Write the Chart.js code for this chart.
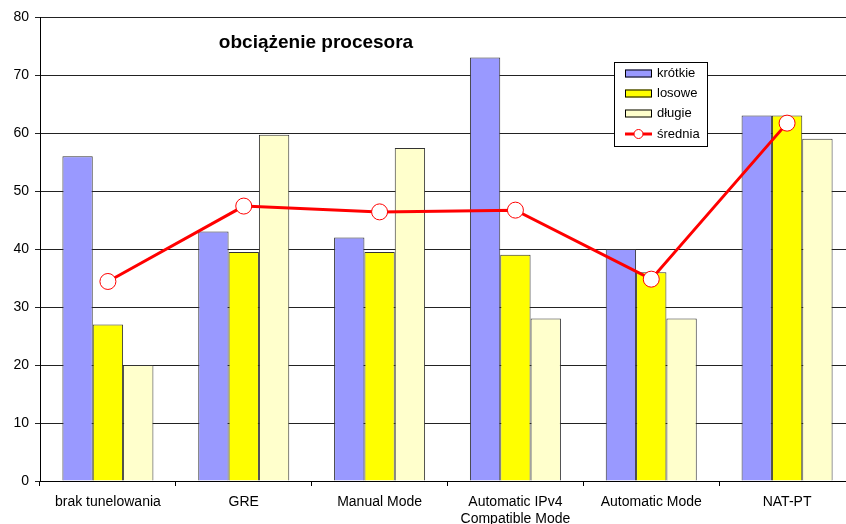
<!DOCTYPE html>
<html>
<head>
<meta charset="utf-8">
<script src="https://cdn.jsdelivr.net/npm/chart.js@4/dist/chart.umd.min.js"></script>
<style>
  html, body { margin: 0; padding: 0; background: #fff; overflow: hidden; }
  #wrap { width: 846px; height: 524px; overflow: hidden; position: relative; }
  #box { width: 864px; height: 524px; position: absolute; left: 0; top: 0; }
</style>
</head>
<body>
<div id="wrap"><div id="box"><canvas id="c"></canvas></div></div>
<script>
const categories = ['brak tunelowania', 'GRE', 'Manual Mode', ['Automatic IPv4', 'Compatible Mode'], 'Automatic Mode', 'NAT-PT'];
const krotkie = [56, 43, 42, 73, 40, 63];
const losowe  = [27, 39.5, 39.5, 39, 36, 63];
const dlugie  = [20, 59.7, 57.4, 28, 28, 59];
const srednia = [34.4, 47.4, 46.4, 46.7, 34.8, 61.7];
const yTicks  = [0, 10, 20, 30, 40, 50, 60, 70, 80];
const chartTitle = 'obciążenie procesora';

const FONT = '"Liberation Sans", Arial, sans-serif';

// Title drawn inside the plotting area
const innerTitle = {
  id: 'innerTitle',
  afterDraw(chart) {
    const ctx = chart.ctx;
    ctx.save();
    ctx.font = 'bold 19px ' + FONT;
    ctx.fillStyle = '#000';
    ctx.textAlign = 'center';
    ctx.textBaseline = 'middle';
    ctx.fillText(chartTitle, 316, 43);
    ctx.restore();
  }
};

// Boxed legend sitting in the upper right of the plot
const boxLegend = {
  id: 'boxLegend',
  afterDraw(chart) {
    const ctx = chart.ctx;
    const x0 = 614, y0 = 62, w = 93, h = 84;
    ctx.save();
    ctx.fillStyle = '#fff';
    ctx.fillRect(x0, y0, w, h);
    ctx.strokeStyle = '#000';
    ctx.lineWidth = 1;
    ctx.strokeRect(x0 + 0.5, y0 + 0.5, w, h);
    ctx.font = '13px ' + FONT;
    ctx.textBaseline = 'middle';
    ctx.textAlign = 'left';
    const rows = [73.5, 93.5, 113.5, 134];
    chart.data.datasets.forEach((ds, i) => {
      const cy = rows[i];
      if (ds.type === 'line') {
        ctx.strokeStyle = ds.borderColor;
        ctx.lineWidth = 3;
        ctx.beginPath();
        ctx.moveTo(625, cy);
        ctx.lineTo(652, cy);
        ctx.stroke();
        ctx.beginPath();
        ctx.arc(638.5, cy, 4.5, 0, Math.PI * 2);
        ctx.fillStyle = '#fff';
        ctx.fill();
        ctx.lineWidth = 1;
        ctx.stroke();
      } else {
        ctx.fillStyle = ds.backgroundColor;
        ctx.fillRect(625, cy - 4, 27, 8);
        ctx.strokeStyle = '#000';
        ctx.lineWidth = 1;
        ctx.strokeRect(625.5, cy - 3.5, 26, 7);
      }
      ctx.fillStyle = '#000';
      ctx.fillText(ds.label, 657, cy);
    });
    ctx.restore();
  }
};

new Chart(document.getElementById('c'), {
  data: {
    labels: categories,
    datasets: [
      { type: 'bar', label: 'krótkie', data: krotkie, backgroundColor: '#9999FF', borderColor: '#333', borderWidth: 1, order: 1,
        categoryPercentage: 0.67, barPercentage: 1.0 },
      { type: 'bar', label: 'losowe', data: losowe, backgroundColor: '#FFFF00', borderColor: '#333', borderWidth: 1, order: 1,
        categoryPercentage: 0.67, barPercentage: 1.0 },
      { type: 'bar', label: 'długie', data: dlugie, backgroundColor: '#FFFFCC', borderColor: '#333', borderWidth: 1, order: 1,
        categoryPercentage: 0.67, barPercentage: 1.0 },
      { type: 'line', label: 'średnia', data: srednia, borderColor: '#FF0000', borderWidth: 3,
        pointRadius: 8, pointBackgroundColor: '#fff', pointBorderColor: '#FF0000', pointBorderWidth: 1,
        tension: 0, order: 0 }
    ]
  },
  options: {
    responsive: true,
    maintainAspectRatio: false,
    animation: false,
    devicePixelRatio: 1,
    layout: { padding: { left: 0, right: 1, top: 17, bottom: 0 } },
    plugins: {
      legend: { display: false },
      title: { display: false },
      tooltip: { enabled: false }
    },
    scales: {
      x: {
        offset: true,
        grid: { offset: true, drawOnChartArea: false, drawTicks: true, tickLength: 5, color: '#000' },
        border: { color: '#000', width: 1 },
        ticks: { color: '#000', font: { family: FONT, size: 14 }, padding: 8, maxRotation: 0, autoSkip: false },
        afterFit(scale) { scale.height = 43; }
      },
      y: {
        min: 0, max: 80,
        afterBuildTicks(scale) { scale.ticks = yTicks.map(v => ({ value: v })); },
        grid: { color: '#222', lineWidth: 1, drawTicks: true, tickLength: 5 },
        border: { color: '#000', width: 1 },
        ticks: { color: '#000', font: { family: FONT, size: 14 }, padding: 6 },
        afterFit(scale) { scale.width = 40; }
      }
    }
  },
  plugins: [innerTitle, boxLegend]
});
</script>
</body>
</html>
